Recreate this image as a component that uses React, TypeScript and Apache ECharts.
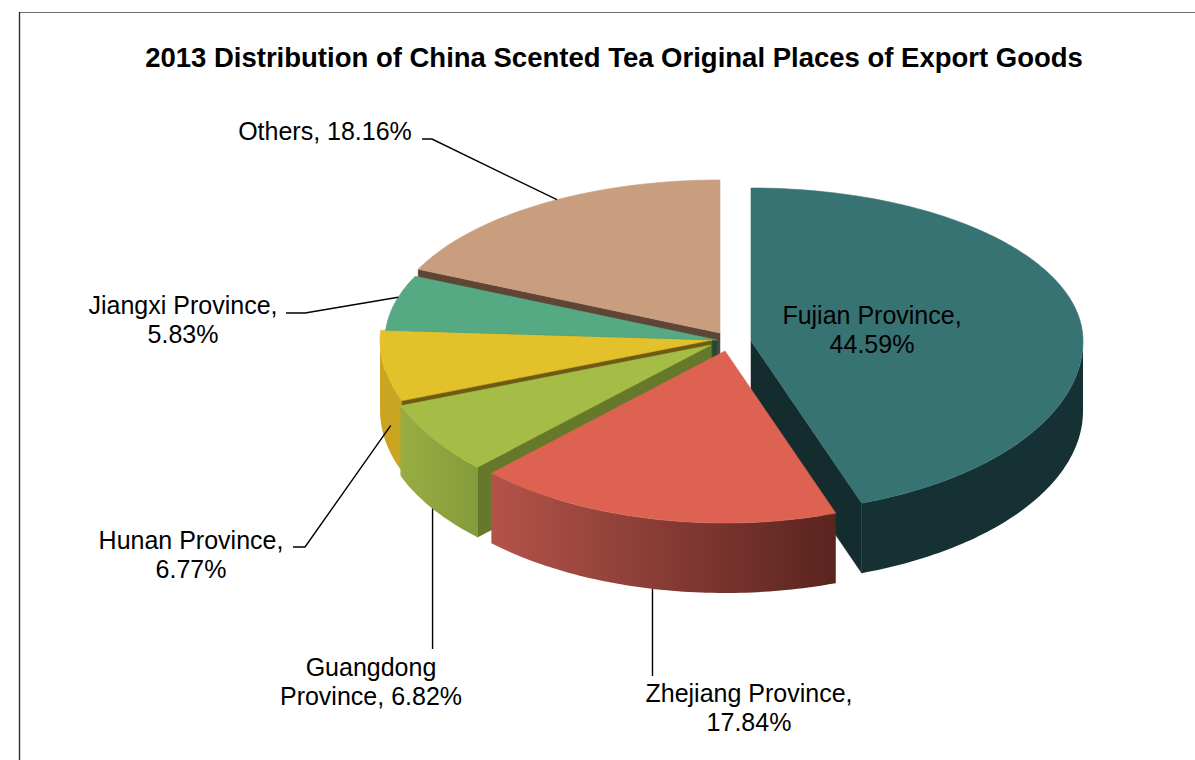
import React, { useEffect, useRef } from 'react';
import * as echarts from 'echarts';

// ---- data ----
const titleText = '2013 Distribution of China Scented Tea Original Places of Export Goods';
const categories = ['Fujian Province', 'Zhejiang Province', 'Guangdong Province', 'Hunan Province', 'Jiangxi Province', 'Others'];
const shares = [44.59, 17.84, 6.82, 6.77, 5.83, 18.16];
// how each label wraps: 'comma' -> break after comma, 'word' -> break after first word, 'none'
const labelWrap = ['comma', 'comma', 'word', 'comma', 'comma', 'none'];

// ---- style / layout config ----
const topColors = ['#377372', '#dd6252', '#a5bd47', '#e2c12a', '#55aa83', '#c99e7e'];
const radialColors = ['#142c2d', '#7a3029', '#66792a', '#6e5a14', '#1f4c39', '#5e4535'];
const wallFills: any[] = [
  '#163133',
  new echarts.graphic.LinearGradient(0, 0, 1, 0, [
    { offset: 0, color: '#b3534a' },
    { offset: 1, color: '#5a241f' },
  ]),
  new echarts.graphic.LinearGradient(0, 0, 1, 0, [
    { offset: 0, color: '#97ad43' },
    { offset: 1, color: '#869b3a' },
  ]),
  '#c9a521',
  '#3f8a68',
  '#a07e64',
];
const explode = [[34, 0], [8, 10], [-6, 4], [-5, -1], [0, -1], [3, -8]];
const labelPos = [[872, 315], [749, 693], [371, 667], [191, 540], [183, 305], [325, 131]];
const anchorFrac = [0, 0.5, 0.5, 0.25, 0.6, 0.55];
const anchorDepth = [0, 1, 1, 0.6, 0, 0];
const leaderEnd: any[] = [null, { v: 676 }, { v: 649 }, { x: 293, y: 547, e: 12 }, { x: 286, y: 313, e: 19 }, { x: 422, y: 139, e: 10 }];

const CX = 717, CY = 341, RX = 332, RYT = 153, RYB = 172, DEPTH = 70;
const FONT = '"Liberation Sans", Arial, sans-serif';

const total = shares.reduce((a, b) => a + b, 0);
const starts: number[] = [];
{
  let acc = 0;
  shares.forEach((v) => { starts.push((acc / total) * 360); acc += v; });
}

function pt(a: number, ox: number, oy: number, z: number): number[] {
  const r = (a * Math.PI) / 180;
  const s = Math.sin(r), c = Math.cos(r);
  return [CX + ox + RX * s, CY + oy - (c >= 0 ? RYT : RYB) * c + z];
}
function arc(a0: number, a1: number, ox: number, oy: number, z: number): number[][] {
  const n = Math.max(2, Math.ceil(Math.abs(a1 - a0)));
  const out: number[][] = [];
  for (let k = 0; k <= n; k++) out.push(pt(a0 + ((a1 - a0) * k) / n, ox, oy, z));
  return out;
}
function avgY(p: number[][]) { return p.reduce((s, q) => s + q[1], 0) / p.length; }

function labelText(i: number) {
  const name = categories[i];
  const pct = shares[i].toFixed(2) + '%';
  if (labelWrap[i] === 'comma') return name + ',\n' + pct;
  if (labelWrap[i] === 'word') {
    const sp = name.indexOf(' ');
    return name.slice(0, sp) + '\n' + name.slice(sp + 1) + ', ' + pct;
  }
  return name + ', ' + pct;
}

export default function App() {
  const ref = useRef<HTMLDivElement>(null);
  useEffect(() => {
    if (!ref.current) return;
    const chart = echarts.init(ref.current, undefined, { renderer: 'svg' });
    const renderItem = (params: any, api: any) => {
      const i = params.dataIndex;
      const v = api.value(0);
      const a0 = starts[i];
      const a1 = a0 + (v / total) * 360;
      const [ox, oy] = explode[i];
      const children: any[] = [];
      const apexT = [CX + ox, CY + oy];
      const apexB = [CX + ox, CY + oy + DEPTH];
      // outer wall
      const s = Math.max(a0, 90), e = Math.min(a1, 270);
      if (s < e) {
        const pts = arc(s, e, ox, oy, 0).concat(arc(e, s, ox, oy, DEPTH));
        children.push({ type: 'polygon', z2: avgY(pts), shape: { points: pts }, style: { fill: wallFills[i], stroke: null } });
      }
      // radial walls (front-facing only)
      [[a0, a0 - 90], [a1, a1 + 90]].forEach(([edge, nrm]) => {
        if (Math.cos((nrm * Math.PI) / 180) < -0.01) {
          const r0 = pt(edge, ox, oy, 0), r1 = pt(edge, ox, oy, DEPTH);
          const pts = [apexT, r0, r1, apexB];
          children.push({ type: 'polygon', z2: avgY(pts), shape: { points: pts }, style: { fill: radialColors[i], stroke: radialColors[i], lineWidth: 0.5 } });
        }
      });
      // top face
      const top = [apexT].concat(arc(a0, a1, ox, oy, 0));
      children.push({ type: 'polygon', z2: 1000, shape: { points: top }, style: { fill: topColors[i], stroke: topColors[i], lineWidth: 0.6 } });
      // leader line
      const le = leaderEnd[i];
      if (le) {
        const anc = pt(a0 + (a1 - a0) * anchorFrac[i], ox, oy, DEPTH * anchorDepth[i]);
        let pts: number[][];
        if (le.v !== undefined) pts = [[anc[0], le.v], anc];
        else pts = [[le.x, le.y], [le.x + le.e, le.y], anc];
        children.push({ type: 'polyline', z2: 1500, shape: { points: pts }, style: { stroke: '#000', lineWidth: 1.4, fill: null } });
      }
      // label
      const [lx, ly] = labelPos[i];
      children.push({
        type: 'text', z2: 2000,
        style: {
          text: labelText(i), x: lx, y: ly - 14.5, fill: '#000',
          fontSize: 25, fontFamily: FONT, align: 'center', verticalAlign: 'top', lineHeight: 29,
        },
      });
      return { type: 'group', children };
    };
    chart.setOption({
      animation: false,
      backgroundColor: '#fff',
      graphic: [
        { type: 'line', silent: true, shape: { x1: 19, y1: 12.5, x2: 1195, y2: 12.5 }, style: { stroke: '#6e6e6e', lineWidth: 1.2 } },
        { type: 'line', silent: true, shape: { x1: 19.5, y1: 12, x2: 19.5, y2: 760 }, style: { stroke: '#303030', lineWidth: 1.4 } },
        { type: 'text', silent: true, x: 614, y: 57, style: { text: titleText, fill: '#000', fontSize: 27.5, fontWeight: 'bold', fontFamily: FONT, align: 'center', verticalAlign: 'middle' } },
      ],
      series: [
        {
          type: 'custom',
          coordinateSystem: 'none',
          silent: true,
          renderItem,
          data: shares.map((v, i) => ({ name: categories[i], value: [v] })),
        },
      ],
    });
    return () => chart.dispose();
  }, []);
  return <div ref={ref} style={{ position: 'absolute', left: 0, top: 0, width: 1195, height: 760 }} />;
}
